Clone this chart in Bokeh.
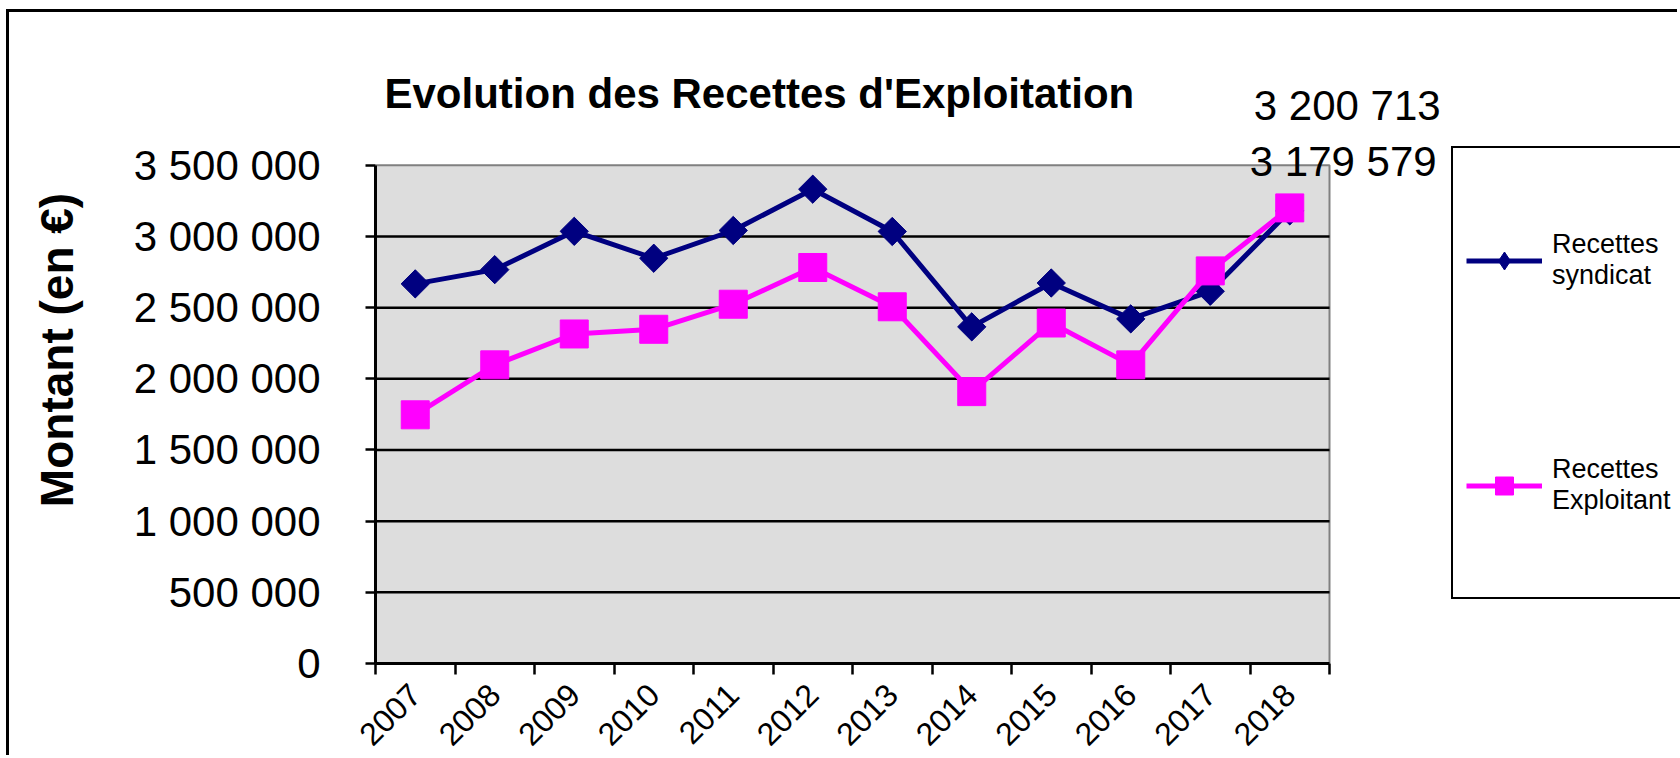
from math import pi
from bokeh.plotting import figure
from bokeh.models import Range1d, FixedTicker, Legend, LegendItem, Label
from bokeh.embed import file_html
from bokeh.resources import INLINE

years = ["2007", "2008", "2009", "2010", "2011", "2012",
         "2013", "2014", "2015", "2016", "2017", "2018"]
syndicat = [2667000, 2767000, 3036000, 2847000, 3042000, 3332000,
            3035000, 2365000, 2673000, 2421000, 2615000, 3179579]
exploitant = [1747000, 2098000, 2315000, 2348000, 2524000, 2782000,
              2506000, 1910000, 2392000, 2098000, 2758000, 3200713]
y_ticks = [0, 500000, 1000000, 1500000, 2000000, 2500000, 3000000, 3500000]
y_tick_labels = ["0", "500 000", "1 000 000", "1 500 000", "2 000 000",
                 "2 500 000", "3 000 000", "3 500 000"]
series_names = ["Recettes\nsyndicat", "Recettes\nExploitant"]

FONT = "Liberation Sans"
NAVY = "#000080"
MAGENTA = "#FF00FF"


def fmt(v):
    return f"{v:,}".replace(",", " ")


n = len(years)
xs = [i + 0.5 for i in range(n)]

# layout (pixels, figure coordinates)
W, H = 1671, 746
PLOT_LEFT, PLOT_W, PLOT_TOP, PLOT_H = 366, 954, 153, 499
FRAME_TOP = 24
frame_w = W - PLOT_LEFT
frame_h = PLOT_TOP + PLOT_H - FRAME_TOP
y_min, y_max = y_ticks[0], y_ticks[-1]

p = figure(width=W, height=H, output_backend="svg", toolbar_location=None,
           x_range=Range1d(0, n * frame_w / PLOT_W),
           y_range=Range1d(y_min, y_min + (y_max - y_min) * frame_h / PLOT_H),
           min_border_left=PLOT_LEFT, min_border_right=0,
           min_border_top=FRAME_TOP, min_border_bottom=H - PLOT_TOP - PLOT_H)
p.styles = {"border-left": "3px solid black", "border-top": "3px solid black",
            "margin-left": "6px", "margin-top": "9px"}

p.background_fill_color = "white"
p.border_fill_color = "white"
p.outline_line_color = None
p.xgrid.visible = False
p.ygrid.visible = False

# plot area
p.quad(left=[0], right=[n], bottom=[y_min], top=[y_max],
       fill_color="#DDDDDD", line_color="#808080", line_width=2)
grid_vals = y_ticks[1:-1]
p.segment(x0=[0] * len(grid_vals), x1=[n] * len(grid_vals),
          y0=grid_vals, y1=grid_vals, line_color="black", line_width=2.5)

# title
p.title.text = "Evolution des Recettes d'Exploitation"
p.title.text_font = FONT
p.title.text_font_size = "42px"
p.title.text_font_style = "bold"
p.title.text_color = "black"
p.title.align = "left"
p.title.offset = 9
p.title.standoff = -161

# y axis
ya = p.yaxis[0]
ya.bounds = (y_min, y_max)
ya.ticker = FixedTicker(ticks=y_ticks)
ya.major_label_overrides = {t: l for t, l in zip(y_ticks, y_tick_labels)}
ya.major_label_text_font = FONT
ya.major_label_text_font_size = "42px"
ya.major_label_text_color = "black"
ya.major_label_standoff = 45
ya.major_tick_out = 10
ya.major_tick_in = 0
ya.major_tick_line_width = 2.5
ya.minor_tick_line_color = None
ya.axis_line_width = 3
ya.axis_label = "Montant (en €)"
ya.axis_label_text_font = FONT
ya.axis_label_text_font_size = "46px"
ya.axis_label_text_font_style = "bold"
ya.axis_label_text_color = "black"
ya.axis_label_standoff = 48

# x axis: labels at category centres, ticks at boundaries
xa = p.xaxis[0]
xa.bounds = (0, n)
xa.ticker = FixedTicker(ticks=xs, minor_ticks=list(range(n + 1)))
xa.major_label_overrides = {x: y for x, y in zip(xs, years)}
xa.major_label_orientation = pi / 4
xa.major_label_text_font = FONT
xa.major_label_text_font_size = "32px"
xa.major_label_text_color = "black"
xa.major_label_standoff = 15
xa.major_tick_out = 0
xa.major_tick_in = 0
xa.minor_tick_out = 11
xa.minor_tick_in = 0
xa.minor_tick_line_width = 2.5
xa.minor_tick_line_color = "black"
xa.axis_line_width = 3

# series
l1 = p.line(xs, syndicat, line_color=NAVY, line_width=5)
d1 = p.scatter(xs, syndicat, marker="diamond", size=27, color=NAVY)
s1 = p.scatter(xs, syndicat, marker="square", angle=pi / 4, size=20, color=NAVY)
l2 = p.line(xs, exploitant, line_color=MAGENTA, line_width=5)
s2 = p.scatter(xs, exploitant, marker="square", size=28, color=MAGENTA)

# data labels of the last year
p.add_layout(Label(x=xs[-1], y=exploitant[-1], text=fmt(exploitant[-1]),
                   x_offset=-36, y_offset=102, text_baseline="middle",
                   text_font=FONT, text_font_size="42px", text_color="black"))
p.add_layout(Label(x=xs[-1], y=syndicat[-1], text=fmt(syndicat[-1]),
                   x_offset=-40, y_offset=49, text_baseline="middle",
                   text_font=FONT, text_font_size="42px", text_color="black"))

legend = Legend(items=[LegendItem(label=series_names[0], renderers=[l1, d1]),
                       LegendItem(label=series_names[1], renderers=[l2, s2])],
                location=(1076, 64), margin=0, padding=13,
                glyph_width=76, glyph_height=45, label_standoff=10,
                label_height=198, spacing=27,
                label_text_font=FONT, label_text_font_size="27px",
                label_text_color="black",
                border_line_color="black", border_line_width=2.5,
                border_line_alpha=1.0,
                background_fill_color="white", background_fill_alpha=1)
p.add_layout(legend)

open("out.html", "w").write(file_html(p, INLINE))
